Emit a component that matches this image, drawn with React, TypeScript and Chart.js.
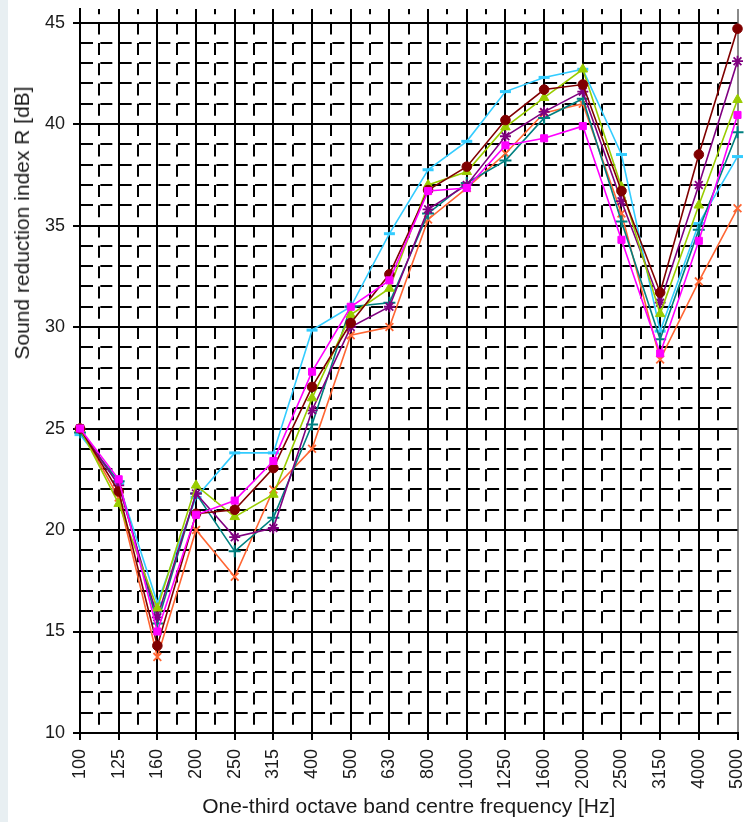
import React, { useEffect, useRef } from "react";
import { Chart, registerables } from "chart.js";

Chart.register(...registerables);

// One-third octave band centre frequencies [Hz]
const categories = ["100", "125", "160", "200", "250", "315", "400", "500", "630", "800", "1000", "1250", "1600", "2000", "2500", "3150", "4000", "5000"];

// Sound reduction index R [dB] per series
const maroonValues = [25.0, 21.9, 14.3, 20.8, 21.0, 23.05, 27.05, 30.2, 32.6, 36.75, 37.9, 40.2, 41.7, 41.95, 36.7, 31.7, 38.5, 44.7];
const magentaValues = [25.0, 22.5, 15.0, 20.75, 21.45, 23.4, 27.8, 31.0, 32.3, 36.7, 36.85, 38.95, 39.3, 39.9, 34.3, 28.7, 34.25, 40.45];
const greenValues = [25.0, 21.3, 16.15, 22.2, 20.65, 21.75, 26.5, 30.6, 31.9, 37.0, 37.65, 39.85, 41.3, 42.7, 36.9, 30.65, 36.0, 41.2];
const purpleValues = [25.0, 22.2, 15.7, 21.8, 19.65, 20.1, 25.9, 30.0, 31.0, 35.8, 37.0, 39.4, 40.6, 41.6, 36.2, 31.2, 37.0, 43.1];
const tealValues = [24.8, 22.4, 15.4, 21.8, 18.95, 20.6, 25.2, 31.0, 31.2, 35.6, 37.1, 38.2, 40.3, 41.25, 35.2, 29.4, 34.8, 39.6];
const orangeValues = [25.0, 21.6, 13.75, 20.0, 17.7, 22.0, 24.0, 29.6, 30.0, 35.3, 36.85, 38.55, 40.55, 41.0, 35.6, 28.4, 32.25, 35.85];
const cyanValues = [24.7, 22.3, 16.4, 21.6, 23.8, 23.8, 29.85, 31.0, 34.6, 37.75, 39.15, 41.6, 42.3, 42.7, 38.5, 29.8, 35.1, 38.4];

// Axis settings
const yMin = 10;
const yMaxLabel = 45;
const yTop = 45.67;
const yMajorStep = 5;
const yTickValues = Array.from({ length: yMaxLabel - yMin + 1 }, (_, i) => yMin + i);
const xTickValues = Array.from({ length: (categories.length - 1) * 2 + 1 }, (_, i) => i / 2);

const FONT = '"Liberation Sans", Arial, sans-serif';
const TEXT = "#1a1a1a";

export default function App() {
  const ref = useRef<HTMLCanvasElement>(null);

  useEffect(() => {
    const canvas = ref.current;
    if (!canvas) return;
    const pts = (vals: number[]) => vals.map((y, i) => ({ x: i, y }));
    const mk = (label: string, vals: number[], color: string, style: any, radius: number, pbw: number) => ({
      label,
      data: pts(vals),
      borderColor: color,
      backgroundColor: color,
      pointBackgroundColor: color,
      pointBorderColor: color,
      pointStyle: style,
      pointRadius: radius,
      pointBorderWidth: pbw,
      borderWidth: 1.6,
      tension: 0,
      clip: false as any,
    });

    const chart = new Chart(canvas, {
      type: "line",
      data: {
        datasets: [
          mk("magenta", magentaValues, "#ff00ff", "rect", 5, 1),
          mk("maroon", maroonValues, "#800000", "circle", 4.8, 1),
          mk("green", greenValues, "#99cc00", "triangle", 5.5, 1),
          mk("purple", purpleValues, "#800080", "star", 5.5, 1.8),
          mk("teal", tealValues, "#008080", "cross", 6, 2),
          mk("orange", orangeValues, "#ff6633", "crossRot", 5.5, 1.8),
          mk("cyan", cyanValues, "#33ccff", "line", 5.5, 3),
        ] as any,
      },
      options: {
        animation: false,
        responsive: false,
        devicePixelRatio: 1,
        layout: { padding: { top: 9, left: 0, right: 5, bottom: 0 } },
        plugins: { legend: { display: false }, tooltip: { enabled: false } },
        scales: {
          x: {
            type: "linear",
            min: 0,
            max: categories.length - 1,
            afterBuildTicks: (s: any) => {
              s.ticks = xTickValues.map((v) => ({ value: v }));
            },
            afterFit: (s: any) => {
              s.height = 89;
              s.paddingLeft = 0;
              s.paddingRight = 0;
            },
            ticks: {
              stepSize: 0.5,
              autoSkip: false,
              maxRotation: 90,
              minRotation: 90,
              padding: 9,
              color: TEXT,
              font: { family: FONT, size: 18 },
              callback: (v: any) => (Number.isInteger(v) ? categories[v] : ""),
            },
            grid: {
              color: (ctx: any) => (ctx.tick && ctx.tick.value === categories.length - 1 ? "#8a8a8a" : "#000"),
              lineWidth: 2,
              tickLength: 7,
              tickColor: (ctx: any) => (ctx.tick && Number.isInteger(ctx.tick.value) ? "#000" : "rgba(0,0,0,0)"),
            },
            border: {
              display: true,
              color: "#000",
              width: 2,
              dash: (ctx: any) => {
                if (!ctx.tick || Number.isInteger(ctx.tick.value)) return [];
                const ys = ctx.chart.scales.y;
                const unit = Math.abs(ys.getPixelForValue(yMin) - ys.getPixelForValue(yMin + 1));
                if (!isFinite(unit) || unit < 14) return [];
                return [12, unit - 12];
              },
              dashOffset: (ctx: any) => {
                if (!ctx.tick) return 0;
                const ys = ctx.chart.scales.y;
                const unit = Math.abs(ys.getPixelForValue(yMin) - ys.getPixelForValue(yMin + 1));
                const d = ys.getPixelForValue(yMaxLabel) - ctx.chart.chartArea.top;
                if (!isFinite(unit) || !isFinite(d) || unit <= 0) return 0;
                return (((unit - d) % unit) + unit) % unit;
              },
            },
            title: {
              display: true,
              text: "One-third octave band centre frequency [Hz]",
              color: TEXT,
              font: { family: FONT, size: 21 },
              padding: { top: 0, bottom: 2 },
            },
          },
          y: {
            type: "linear",
            min: yMin,
            max: yTop,
            afterBuildTicks: (s: any) => {
              s.ticks = yTickValues.map((v) => ({ value: v }));
            },
            afterFit: (s: any) => {
              s.width = 80;
              s.paddingTop = 0;
              s.paddingBottom = 0;
            },
            ticks: {
              stepSize: 1,
              autoSkip: false,
              padding: 8,
              color: TEXT,
              font: { family: FONT, size: 18 },
              callback: (v: any) => (v % yMajorStep === 0 ? String(v) : ""),
            },
            grid: {
              color: "#000",
              lineWidth: 2,
              tickLength: 7,
              tickColor: (ctx: any) => (ctx.tick && ctx.tick.value % yMajorStep === 0 ? "#000" : "rgba(0,0,0,0)"),
            },
            border: {
              display: true,
              color: "#000",
              width: 2,
              dash: (ctx: any) => {
                if (!ctx.tick || ctx.tick.value % yMajorStep === 0) return [];
                const xs = ctx.chart.scales.x;
                const half = Math.abs(xs.getPixelForValue(0.5) - xs.getPixelForValue(0));
                if (!isFinite(half) || half < 14) return [];
                return [12, half - 12];
              },
            },
          },
        },
      } as any,
    });
    return () => chart.destroy();
  }, []);

  return (
    <div style={{ position: "fixed", left: 0, top: 0, width: 746, height: 822, background: "#fff", overflow: "hidden" }}>
      <div style={{ position: "absolute", left: 0, top: 0, width: 8, height: 822, background: "#e8eff2" }} />
      <canvas ref={ref} width={746} height={822} style={{ position: "absolute", left: 0, top: 0, width: 746, height: 822 }} />
      <div
        style={{
          position: "absolute",
          left: 22,
          top: 223,
          transform: "translate(-50%, -50%) rotate(-90deg)",
          whiteSpace: "nowrap",
          font: `21px ${FONT}`,
          color: TEXT,
          lineHeight: "24px",
        }}
      >
        Sound reduction index R [dB]
      </div>
    </div>
  );
}
